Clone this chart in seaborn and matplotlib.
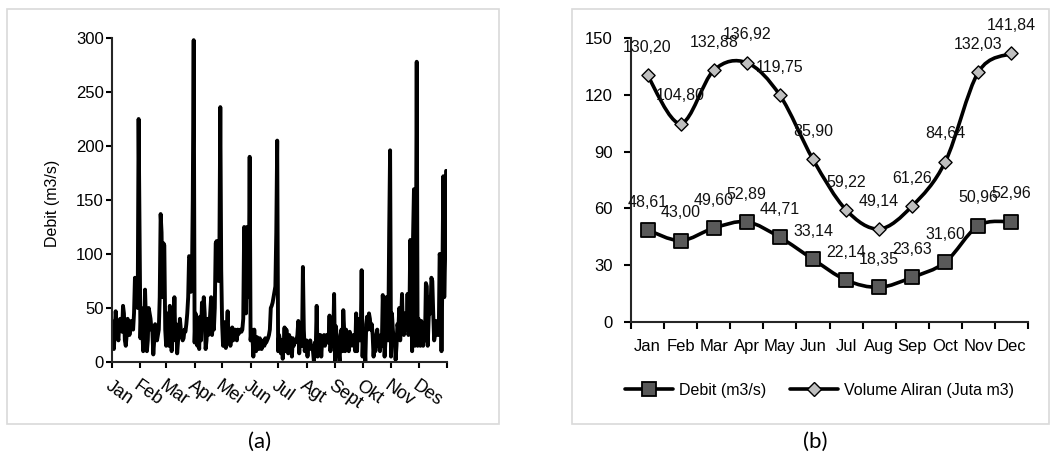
import numpy as np
import matplotlib
matplotlib.use("Agg")
import matplotlib.pyplot as plt
from matplotlib.path import Path
from matplotlib.patches import PathPatch, Rectangle
from matplotlib.lines import Line2D
import seaborn as sns

# ---- data (a): debit harian ----
bulan_a = ["Jan", "Feb", "Mar", "Apr", "Mei", "Jun", "Jul", "Agt", "Sept", "Okt", "Nov", "Des"]
jan = [38, 30, 12, 28, 47, 35, 25, 20, 38, 40, 30, 28, 52, 45, 20, 15, 25, 40, 35, 25, 30, 38, 35, 30, 45, 78, 60, 78, 50, 225, 120]
feb = [22, 50, 30, 10, 25, 67, 40, 10, 20, 50, 45, 40, 30, 28, 7, 20, 35, 30, 20, 25, 30, 60, 137, 120, 60, 110, 108, 30]
mar = [15, 45, 25, 15, 52, 30, 10, 40, 25, 60, 20, 35, 8, 20, 25, 40, 30, 25, 20, 22, 30, 28, 35, 45, 60, 98, 97, 65, 70, 150, 298]
apr = [18, 45, 35, 15, 30, 12, 42, 20, 55, 40, 60, 45, 12, 20, 40, 25, 30, 45, 60, 25, 40, 30, 50, 110, 112, 90, 75, 100, 236, 85]
mei = [35, 15, 37, 25, 13, 30, 47, 20, 30, 15, 25, 32, 20, 28, 30, 25, 20, 30, 26, 28, 30, 28, 30, 40, 125, 50, 45, 125, 80, 60, 190]
jun = [20, 30, 25, 5, 30, 12, 10, 23, 15, 12, 22, 18, 12, 18, 20, 15, 22, 18, 20, 22, 25, 30, 50, 52, 55, 60, 65, 70, 120, 205]
jul = [10, 25, 20, 8, 20, 3, 15, 32, 10, 30, 20, 8, 25, 20, 22, 5, 22, 15, 20, 18, 20, 25, 38, 8, 25, 20, 15, 88, 30, 10, 18]
agt = [20, 5, 18, 15, 20, 12, 15, 10, 0, 18, 12, 52, 5, 25, 15, 25, 5, 20, 22, 25, 15, 20, 25, 18, 20, 43, 10, 25, 18, 20, 63]
sep = [0, 33, 20, 15, 10, 0, 25, 30, 10, 48, 30, 10, 30, 25, 18, 10, 28, 15, 25, 20, 15, 25, 10, 45, 10, 40, 30, 20, 25, 85]
okt = [5, 30, 20, 0, 35, 42, 30, 45, 40, 30, 35, 25, 5, 20, 10, 25, 30, 15, 20, 10, 25, 15, 62, 40, 5, 20, 60, 30, 20, 120, 196]
nov = [5, 45, 30, 20, 25, 2, 15, 35, 30, 50, 20, 40, 63, 30, 25, 45, 35, 30, 63, 25, 40, 113, 60, 10, 115, 160, 15, 50, 278, 15]
des = [40, 20, 15, 38, 20, 15, 30, 20, 73, 70, 15, 40, 60, 45, 78, 75, 45, 20, 25, 38, 30, 25, 25, 100, 95, 10, 80, 172, 60, 100, 177]
data_bulan = [jan, feb, mar, apr, mei, jun, jul, agt, sep, okt, nov, des]
debit_harian = sum(data_bulan, [])

# ---- data (b): rata-rata bulanan ----
bulan_b = ["Jan", "Feb", "Mar", "Apr", "May", "Jun", "Jul", "Aug", "Sep", "Oct", "Nov", "Dec"]
debit_bulanan = [48.61, 43.00, 49.60, 52.89, 44.71, 33.14, 22.14, 18.35, 23.63, 31.60, 50.96, 52.96]
volume_bulanan = [130.20, 104.80, 132.88, 136.92, 119.75, 85.90, 59.22, 49.14, 61.26, 84.64, 132.03, 141.84]

sns.set_style("ticks")
plt.rcParams["font.family"] = ["Liberation Sans", "DejaVu Sans"]
plt.rcParams["font.size"] = 12
plt.rcParams["axes.linewidth"] = 1.5
plt.rcParams["text.color"] = "black"
plt.rcParams["axes.labelcolor"] = "black"
plt.rcParams["xtick.labelcolor"] = "black"
plt.rcParams["ytick.labelcolor"] = "black"

W, H = 1051, 461
fig = plt.figure(figsize=(W / 100, H / 100), dpi=100)

# kotak panel
for x0, x1 in [(7, 499), (572, 1049)]:
    fig.patches.append(Rectangle((x0 / W, 1 - 424 / H), (x1 - x0) / W, (424 - 9) / H,
                                 transform=fig.transFigure, fill=False,
                                 edgecolor="#d9d9d9", lw=1.2))

# ---- panel (a) ----
ax1 = fig.add_axes([112 / W, 1 - 362 / H, 335 / W, 324 / H])
hari = np.arange(len(debit_harian))
sns.lineplot(x=hari, y=debit_harian, ax=ax1, color="black", lw=2.8)
awal = np.cumsum([0] + [len(m) for m in data_bulan])
ax1.set_xlim(0, len(debit_harian))
ax1.set_ylim(0, 300)
ax1.set_yticks(range(0, 301, 50))
ax1.set_xticks(awal)
ax1.set_xticklabels(bulan_a + [""], rotation=-35, ha="left", va="top",
                    rotation_mode="anchor", fontsize=13)
ax1.tick_params(axis="both", length=4, width=1.5, color="black")
ax1.tick_params(axis="y", pad=2, labelsize=12)
ax1.tick_params(axis="x", pad=7)
ax1.set_ylabel("Debit (m3/s)", fontsize=11.5)
ax1.yaxis.set_label_coords(-0.155, 0.49)
sns.despine(ax=ax1)


# ---- panel (b) ----
def kurva_halus(ax, xs, ys, **kw):
    # bezier smoothing like a spreadsheet "smoothed line"
    p = np.column_stack([xs, ys]).astype(float)
    verts = [tuple(p[0])]
    codes = [Path.MOVETO]
    n = len(p)
    for i in range(n - 1):
        p0 = p[max(i - 1, 0)]
        p1, p2 = p[i], p[i + 1]
        p3 = p[min(i + 2, n - 1)]
        c1 = p1 + (p2 - p0) / 6
        c2 = p2 - (p3 - p1) / 6
        verts += [tuple(c1), tuple(c2), tuple(p2)]
        codes += [Path.CURVE4] * 3
    ax.add_patch(PathPatch(Path(verts, codes), fill=False, **kw))


ax2 = fig.add_axes([631 / W, 1 - 322 / H, 397 / W, 284 / H])
pos = np.arange(len(bulan_b))
kurva_halus(ax2, pos, debit_bulanan, edgecolor="black", lw=2.6, zorder=2)
kurva_halus(ax2, pos, volume_bulanan, edgecolor="black", lw=2.6, zorder=2)
sns.scatterplot(x=pos, y=debit_bulanan, ax=ax2, marker="s", s=95,
                color="#595959", edgecolor="black", linewidth=1.3, zorder=3)
sns.scatterplot(x=pos, y=volume_bulanan, ax=ax2, marker="D", s=45,
                color="#bfbfbf", edgecolor="black", linewidth=1.0, zorder=3)

for xs, ys in [(pos, debit_bulanan), (pos, volume_bulanan)]:
    for x, y in zip(xs, ys):
        ax2.annotate(f"{y:.2f}".replace(".", ","), (x, y), xytext=(0, 20),
                     textcoords="offset points", ha="center", va="center",
                     fontsize=11.5, color="#111111", annotation_clip=False)

ax2.set_xlim(-0.5, len(bulan_b) - 0.5)
ax2.set_ylim(0, 150)
ax2.set_yticks(range(0, 151, 30))
ax2.set_xticks(pos)
ax2.set_xticklabels(bulan_b)
ax2.set_xticks(np.arange(-0.5, len(bulan_b), 1), minor=True)
ax2.tick_params(axis="x", which="major", length=0, pad=12, labelsize=12)
ax2.tick_params(axis="x", which="minor", length=5, width=1.5, color="black")
ax2.tick_params(axis="y", length=5, width=1.5, color="black", pad=8, labelsize=12)
sns.despine(ax=ax2)

handles = [
    Line2D([], [], color="black", lw=2.6, marker="s", ms=10,
           mfc="#595959", mec="black", mew=1.3),
    Line2D([], [], color="black", lw=2.6, marker="D", ms=7,
           mfc="#bfbfbf", mec="black", mew=1.0),
]
ax2.legend(handles, ["Debit (m3/s)", "Volume Aliran (Juta m3)"], ncol=2,
           loc="center", bbox_to_anchor=(0.475, -0.24), frameon=False,
           handlelength=3, handletextpad=0.35, columnspacing=1.5, fontsize=11.5)

fig.text(260 / W, 1 - 442 / H, "(a)", ha="center", va="center", fontsize=16,
         family=["Lato", "DejaVu Sans"])
fig.text(815 / W, 1 - 442 / H, "(b)", ha="center", va="center", fontsize=16,
         family=["Lato", "DejaVu Sans"])

fig.savefig("out.png", dpi=100)
